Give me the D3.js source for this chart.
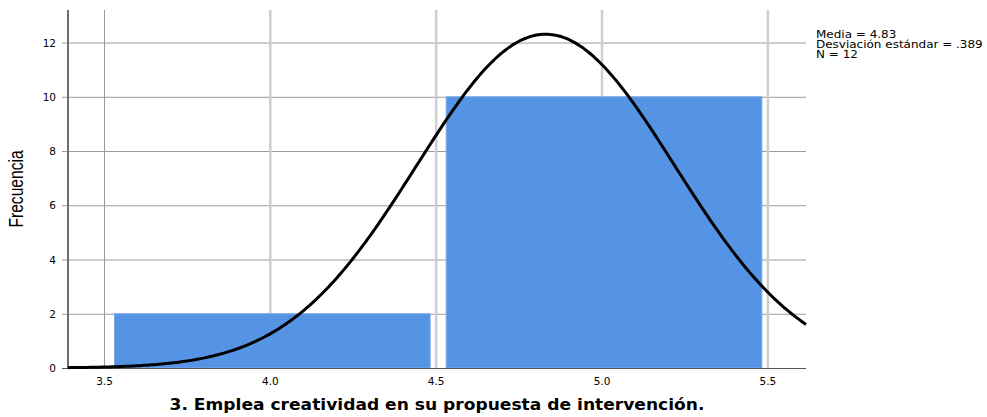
<!DOCTYPE html>
<html>
<head>
<meta charset="utf-8">
<script src="https://cdn.jsdelivr.net/npm/d3@7"></script>
<style>
    body { margin: 0; background: #fff; }
    text { font-family: "DejaVu Sans", Verdana, sans-serif; fill: #000; }
    .yTitle { font-family: "Liberation Sans", Arial, sans-serif; }
</style>
</head>
<body>
<svg id="chart" width="987" height="417"></svg>
<script>
// Histogram data (bins and counts).
var binStarts = [3.5, 4.5],
    binEnds = [4.5, 5.5],
    binCounts = [2, 10],
    xTicks = [3.5, 4.0, 4.5, 5.0, 5.5],
    yTicks = [0, 2, 4, 6, 8, 10, 12],
    stats = { mean: 4.83, sd: 0.389, n: 12 },
    legendLines = ['Media = 4.83', 'Desviación estándar = .389', 'N = 12'];

var svg = d3.select( '#chart' ),
    plot = { left: 68, right: 806, top: 10, bottom: 368 },
    x = d3.scaleLinear().domain( [3.39, 5.615] ).range( [plot.left, plot.right] ),
    y = d3.scaleLinear().domain( [0, 13.2] ).range( [plot.bottom, plot.top] );

// Horizontal gridlines with small ticks on the left.
svg.append( 'g' )
    .selectAll( 'line' )
    .data( yTicks.filter( d => d > 0 ) )
    .join( 'line' )
    .attr( 'x1', plot.left - 6 )
    .attr( 'x2', plot.right )
    .attr( 'y1', d => y( d ) + 0.5 )
    .attr( 'y2', d => y( d ) + 0.5 )
    .attr( 'stroke', '#9a9a9a' )
    .attr( 'stroke-width', 1 );

// Vertical gridlines.
svg.append( 'g' )
    .selectAll( 'line' )
    .data( xTicks )
    .join( 'line' )
    .attr( 'x1', d => x( d ) )
    .attr( 'x2', d => x( d ) )
    .attr( 'y1', plot.top )
    .attr( 'y2', plot.bottom )
    .attr( 'stroke', ( d, i ) => i === 0 ? '#9a9a9a' : '#cfcfcf' )
    .attr( 'stroke-width', ( d, i ) => i === 0 ? 1 : 2.5 );

// Bars.
var bins = binCounts.map( ( c, i ) => ( { x0: binStarts[i], x1: binEnds[i], count: c } ) );
svg.append( 'g' )
    .selectAll( 'rect' )
    .data( bins )
    .join( 'rect' )
    .attr( 'x', d => x( d.x0 ) + 10 )
    .attr( 'width', d => x( d.x1 ) - x( d.x0 ) - 16 )
    .attr( 'y', d => y( d.count ) )
    .attr( 'height', d => y( 0 ) - y( d.count ) )
    .attr( 'fill', '#5594e5' )
    .attr( 'stroke', '#7aa9ea' )
    .attr( 'stroke-width', 1 );

// Axes lines.
svg.append( 'line' )
    .attr( 'x1', plot.left ).attr( 'x2', plot.left )
    .attr( 'y1', plot.top ).attr( 'y2', plot.bottom )
    .attr( 'stroke', '#6e6e6e' ).attr( 'stroke-width', 2 );
svg.append( 'line' )
    .attr( 'x1', plot.left - 6 ).attr( 'x2', plot.right )
    .attr( 'y1', plot.bottom + 0.5 ).attr( 'y2', plot.bottom + 0.5 )
    .attr( 'stroke', '#555' ).attr( 'stroke-width', 1 );

// Normal curve scaled to counts (bin width 1).
var binWidth = binEnds[0] - binStarts[0],
    normal = v => stats.n * binWidth / ( stats.sd * Math.sqrt( 2 * Math.PI ) ) *
        Math.exp( -0.5 * Math.pow( ( v - stats.mean ) / stats.sd, 2 ) ),
    curveXs = d3.range( 0, 301 ).map( i => x.domain()[0] + ( x.domain()[1] - x.domain()[0] ) * i / 300 );

svg.append( 'path' )
    .datum( curveXs )
    .attr( 'fill', 'none' )
    .attr( 'stroke', '#000' )
    .attr( 'stroke-width', 3 )
    .attr( 'd', d3.line().x( d => x( d ) ).y( d => y( normal( d ) ) ).curve( d3.curveBasis ) );

// Tick labels.
svg.append( 'g' )
    .selectAll( 'text' )
    .data( yTicks )
    .join( 'text' )
    .attr( 'x', 56 )
    .attr( 'y', d => y( d ) + 4 )
    .attr( 'text-anchor', 'end' )
    .style( 'font-size', '10.5px' )
    .text( d => d );

svg.append( 'g' )
    .selectAll( 'text' )
    .data( xTicks )
    .join( 'text' )
    .attr( 'x', d => x( d ) )
    .attr( 'y', 385 )
    .attr( 'text-anchor', 'middle' )
    .style( 'font-size', '10.5px' )
    .text( d => d.toFixed( 1 ) );

// Titles.
svg.append( 'text' )
    .attr( 'x', 437 )
    .attr( 'y', 410 )
    .attr( 'text-anchor', 'middle' )
    .attr( 'textLength', 535 )
    .attr( 'lengthAdjust', 'spacingAndGlyphs' )
    .style( 'font-size', '15px' )
    .style( 'font-weight', 'bold' )
    .text( '3. Emplea creatividad en su propuesta de intervención.' );

// Condensed y title.
svg.append( 'text' )
    .attr( 'class', 'yTitle' )
    .attr( 'transform', 'translate(23,189) rotate(-90) scale(0.8,1)' )
    .attr( 'text-anchor', 'middle' )
    .style( 'font-size', '19.5px' )
    .text( 'Frecuencia' );

// Stats legend (stretched horizontally like the reference).
svg.append( 'g' )
    .selectAll( 'text' )
    .data( legendLines )
    .join( 'text' )
    .attr( 'transform', ( d, i ) => 'translate(816,' + ( 38 + i * 10 ) + ') scale(1.2,1)' )
    .style( 'font-size', '10px' )
    .text( d => d );
</script>
</body>
</html>
